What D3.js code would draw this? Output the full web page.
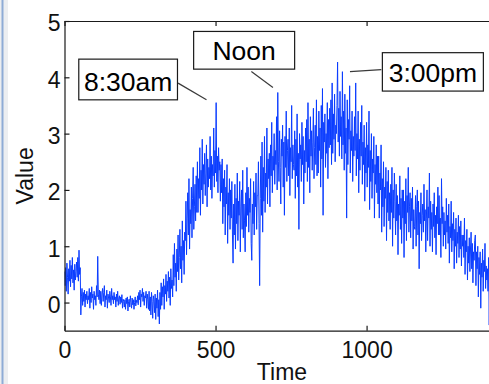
<!DOCTYPE html>
<html>
<head>
<meta charset="utf-8">
<script src="https://cdn.jsdelivr.net/npm/d3@7"></script>
<style>
  html, body { margin: 0; padding: 0; background: #fff; }
  svg { display: block; font-family: "Liberation Sans", Arial, Helvetica, sans-serif; }
</style>
</head>
<body>
<svg id="chart" width="489" height="384"></svg>
<script>
// Sampling interval of the activity trace, in minutes since midnight
const stepMinutes = 2;

// Activity level, one reading every 2 minutes (20 readings = 40 minutes per row)
const values = [
  0.55, 0.30, 0.62, 0.20, 0.70, 0.45, 0.15, 0.60, 0.38, 0.75, 0.28, 0.66, 0.42, 0.80, 0.35, 0.58, 0.22, 0.68, 0.40, 0.55,
  0.72, 0.45, 0.80, 0.38, 0.93, 0.50, 0.62, -0.22, 0.10, 0.25, -0.05, 0.18, 0.02, 0.22, -0.08, 0.15, 0.05, 0.20, -0.02, 0.12,
  0.05, 0.25, -0.10, 0.18, 0.00, 0.28, 0.08, 0.15, -0.12, 0.20, 0.05, 0.12, -0.05, 0.30, 0.10, 0.82, 0.15, 0.05, 0.22, -0.02,
  0.20, -0.05, 0.15, 0.25, 0.02, 0.18, 0.30, -0.08, 0.12, 0.05, 0.22, -0.10, 0.15, 0.08, 0.00, 0.20, 0.10, -0.05, 0.25, 0.05,
  0.12, -0.02, 0.18, 0.05, 0.10, -0.08, 0.15, 0.02, 0.20, -0.05, 0.08, 0.12, -0.03, 0.10, 0.00, 0.14, -0.10, 0.06, 0.02, -0.08,
  0.05, -0.12, 0.08, -0.02, 0.10, -0.15, 0.02, 0.06, -0.08, 0.12, 0.00, -0.10, 0.08, -0.04, 0.05, -0.12, 0.00, 0.10, -0.06, 0.04,
  0.00, 0.12, -0.04, 0.18, 0.05, 0.22, -0.08, 0.15, 0.10, 0.25, 0.02, 0.18, -0.05, 0.12, 0.08, 0.20, -0.10, 0.15, 0.05, -0.12,
  0.20, -0.15, 0.10, -0.22, 0.18, 0.02, -0.28, 0.12, 0.05, -0.18, 0.15, -0.30, 0.08, -0.10, 0.22, -0.25, 0.05, -0.38, 0.18, -0.12,
  0.35, -0.05, 0.28, 0.10, 0.42, -0.12, 0.30, 0.15, 0.50, 0.02, 0.38, 0.20, 0.55, 0.08, 0.45, -0.05, 0.60, 0.25, 0.40, 0.10,
  0.85, 0.30, 1.05, 0.45, 0.70, 0.20, 0.95, 0.55, 1.20, 0.40, 0.80, 1.30, 0.60, 1.00, 0.35, 1.45, 0.75, 1.10, 0.50, 1.25,
  1.10, 1.80, 0.85, 1.50, 1.95, 1.20, 2.20, 0.95, 1.65, 1.40, 2.05, 1.15, 1.85, 2.40, 1.30, 1.70, 2.10, 1.45, 2.25, 1.60,
  2.50, 1.60, 2.20, 1.85, 2.75, 1.55, 2.35, 2.00, 2.90, 1.75, 2.45, 2.10, 2.65, 1.90, 2.30, 2.80, 1.70, 2.55, 2.05, 2.40,
  2.20, 2.95, 2.00, 2.60, 1.85, 2.45, 2.25, 3.10, 2.05, 2.70, 2.30, 3.55, 2.15, 2.60, 1.95, 2.75, 2.35, 2.50, 1.80, 2.45,
  1.95, 2.55, 1.40, 2.20, 1.70, 2.35, 1.20, 2.05, 1.75, 2.45, 1.05, 1.95, 1.55, 2.20, 1.30, 2.00, 1.50, 2.15, 1.20, 0.70,
  1.75, 1.20, 2.10, 0.95, 1.85, 1.40, 2.30, 1.10, 1.80, 1.55, 2.15, 0.90, 1.70, 2.00, 1.30, 2.35, 1.15, 1.75, 1.45, 0.90,
  1.95, 1.35, 2.40, 1.55, 2.05, 1.25, 1.85, 1.60, 2.20, 1.05, 0.75, 1.75, 1.40, 2.15, 1.20, 1.95, 1.70, 2.30, 1.30, 1.90,
  1.90, 2.50, 1.40, 0.30, 1.85, 2.60, 1.55, 2.85, 1.25, 2.40, 1.80, 2.95, 1.60, 2.30, 2.05, 3.10, 1.75, 2.55, 2.20, 2.65,
  1.70, 2.80, 2.25, 3.20, 1.95, 2.60, 2.35, 3.00, 2.10, 2.70, 2.45, 3.30, 2.00, 3.73, 2.50, 2.15, 3.05, 2.40, 1.75, 2.90,
  2.60, 3.15, 2.05, 2.85, 1.55, 2.95, 2.40, 3.40, 2.15, 2.70, 2.90, 2.25, 3.10, 1.90, 2.75, 2.50, 3.50, 2.20, 2.80, 2.45,
  2.35, 3.05, 1.85, 2.90, 2.25, 3.35, 2.05, 2.65, 1.30, 3.00, 2.55, 2.80, 2.15, 3.20, 2.45, 2.95, 1.75, 2.70, 2.30, 3.10,
  2.50, 3.25, 2.15, 3.55, 2.40, 2.90, 1.95, 3.30, 2.60, 3.05, 2.35, 2.85, 3.45, 2.20, 2.75, 3.15, 2.45, 3.60, 2.25, 2.95,
  2.30, 3.40, 2.70, 3.10, 2.05, 3.50, 2.55, 3.80, 1.55, 3.20, 2.85, 3.35, 2.40, 3.00, 2.65, 3.55, 2.20, 3.25, 2.75, 3.45,
  2.80, 3.60, 2.45, 3.90, 2.65, 3.35, 2.90, 3.70, 2.50, 3.15, 3.00, 3.50, 4.27, 2.85, 3.45, 2.60, 3.75, 2.95, 3.30, 2.55,
  4.10, 2.80, 3.40, 2.35, 3.70, 2.65, 3.10, 1.50, 3.60, 2.45, 3.25, 2.90, 3.85, 2.30, 3.05, 2.70, 3.40, 2.15, 2.95, 2.60,
  3.30, 2.70, 3.90, 2.25, 3.00, 2.55, 3.40, 1.95, 2.90, 2.35, 3.20, 2.60, 3.50, 2.10, 2.85, 2.45, 3.15, 1.80, 2.75, 2.30,
  3.20, 2.05, 2.80, 2.40, 3.40, 1.65, 2.70, 2.15, 3.00, 1.85, 2.55, 2.30, 2.95, 1.50, 2.45, 2.10, 2.80, 1.95, 2.60, 1.75,
  2.60, 1.50, 2.30, 2.00, 2.80, 1.25, 2.20, 1.70, 2.50, 1.35, 2.05, 1.85, 2.40, 1.10, 2.15, 1.60, 2.35, 1.45, 1.95, 1.30,
  2.10, 1.60, 2.40, 1.00, 2.00, 1.50, 2.30, 1.80, 1.20, 2.10, 1.45, 1.90, 0.85, 1.75, 1.55, 2.25, 1.30, 1.85, 1.05, 2.00,
  1.50, 2.00, 0.80, 1.80, 1.40, 2.20, 1.10, 1.90, 1.60, 2.40, 1.25, 1.70, 1.95, 1.15, 1.85, 1.45, 2.05, 0.95, 1.65, 1.35,
  1.30, 1.90, 1.00, 1.70, 2.00, 1.20, 1.80, 0.60, 1.60, 1.40, 1.95, 1.10, 1.55, 1.75, 1.25, 2.10, 1.45, 1.65, 0.90, 1.50,
  2.00, 1.10, 1.70, 1.50, 2.30, 1.00, 1.80, 1.30, 1.60, 0.90, 1.75, 1.35, 1.95, 1.15, 1.55, 0.85, 1.70, 1.40, 2.05, 1.20,
  1.90, 1.20, 1.50, 0.80, 2.20, 1.40, 1.70, 1.00, 1.60, 1.20, 1.45, 0.95, 1.85, 1.25, 1.55, 1.05, 1.75, 0.70, 1.35, 1.15,
  1.80, 0.90, 1.40, 1.10, 1.60, 0.60, 1.30, 1.00, 1.50, 0.70, 1.25, 1.05, 1.55, 0.80, 1.35, 0.95, 1.45, 0.65, 1.20, 1.00,
  1.20, 0.80, 1.50, 0.50, 1.10, 0.90, 1.30, 0.40, 1.00, 0.70, 1.15, 0.55, 0.95, 1.25, 0.60, 1.05, 0.35, 0.90, 0.75, 1.10,
  1.20, 0.30, 0.90, 0.60, 1.00, 0.10, 0.80, 0.50, 0.90, -0.10, 0.70, 0.45, 0.95, 0.20, 0.75, 0.55, 1.05, 0.25, 0.65, 0.40,
  0.60, 0.20, 0.80, -0.40, 0.50, 0.30, 0.70, 0.20, 0.60, 0.40, 0.55, 0.15, 0.75, 0.35, 0.50, 0.05, 0.65, 0.30, 0.45, 0.25
];

// Axis ticks
const xTicks = [0, 500, 1000];
const yTicks = [0, 1, 2, 3, 4, 5];

// Callouts: label and the point (minute, value) each one points at
const calloutLabels = ["8:30am", "Noon", "3:00pm"];
const calloutMinutes = [470, 690, 945];
const calloutValues = [3.6, 3.82, 4.1];

const svg = d3.select("#chart");
const W = 489, H = 384;

// Window frame strip at the left edge
svg.append("rect").attr("x", 0).attr("y", 0).attr("width", 8).attr("height", H).attr("fill", "#eceef1");
svg.append("line").attr("x1", 2.5).attr("x2", 2.5).attr("y1", 0).attr("y2", H)
  .attr("stroke", "#8eabd6").attr("stroke-width", 2);

const plot = { left: 64.5, top: 21, right: 499.5, bottom: 330.7 };

const x = d3.scaleLinear().domain([0, 1440]).range([plot.left, plot.right]);
const y = d3.scaleLinear().domain([-0.5, 5]).range([plot.bottom, plot.top]);

const series = values.map((v, i) => ({ t: i * stepMinutes, v }));

svg.append("clipPath").attr("id", "plotClip")
  .append("rect")
  .attr("x", plot.left).attr("y", plot.top)
  .attr("width", plot.right - plot.left).attr("height", plot.bottom - plot.top);

// Trace
svg.append("path")
  .datum(series)
  .attr("clip-path", "url(#plotClip)")
  .attr("fill", "none")
  .attr("stroke", "#0a3cff")
  .attr("stroke-width", 1)
  .attr("d", d3.line().x(d => x(d.t)).y(d => y(d.v)));

// Axes box with inward ticks (bottom/left labelled, top/right unlabelled)
const axisColor = "#1a1a1a";
const tickLen = 5;
const fmt = d3.format("d");

const gx = svg.append("g").attr("transform", `translate(0,${plot.bottom})`)
  .call(d3.axisBottom(x).tickValues(xTicks).tickFormat(fmt).tickSizeInner(-tickLen).tickSizeOuter(0).tickPadding(10.5));
gx.selectAll("text").attr("font-size", 23).attr("fill", "#111");

svg.append("g").attr("transform", `translate(0,${plot.top})`)
  .call(d3.axisTop(x).tickValues(xTicks).tickSizeInner(-tickLen).tickSizeOuter(0).tickFormat(""));

const gy = svg.append("g").attr("transform", `translate(${plot.left},0)`)
  .call(d3.axisLeft(y).tickValues(yTicks).tickFormat(fmt).tickSizeInner(-tickLen).tickSizeOuter(0).tickPadding(4));
gy.selectAll("text").attr("font-size", 23).attr("fill", "#111").attr("dy", "0.43em");

svg.append("g").attr("transform", `translate(${plot.right},0)`)
  .call(d3.axisRight(y).tickValues(yTicks).tickSizeInner(-tickLen).tickSizeOuter(0).tickFormat(""));

svg.selectAll("g").attr("font-family", null);
svg.selectAll(".domain").attr("stroke", axisColor).attr("stroke-width", 1.2);
svg.selectAll(".tick line").attr("stroke", axisColor).attr("stroke-width", 1.2);

// Axis labels
svg.append("text")
  .attr("x", (plot.left + plot.right) / 2).attr("y", 379.5)
  .attr("text-anchor", "middle").attr("font-size", 23).attr("fill", "#111")
  .text("Time");

svg.append("text")
  .attr("transform", `translate(33,${(plot.top + plot.bottom) / 2}) rotate(-90)`)
  .attr("text-anchor", "middle").attr("font-size", 23).attr("fill", "#111")
  .text("Value");

// Callout boxes with leader lines; box placement is given relative to the pointed-at sample
const calloutLayout = [
  { bx: -127.7, by: -40.7, bw: 98.7, bh: 40.7, lx: -28.4, ly: -16.7 },
  { bx: -79.3,  by: -56,   bw: 101,  bh: 37.7, lx: -21.6, ly: -16 },
  { bx: 32.4,   by: -19,   bw: 101,  bh: 38.4, lx: 31.4,  ly: -2 }
];

calloutLabels.forEach((label, i) => {
  const px = x(calloutMinutes[i]);
  const py = y(calloutValues[i]);
  const L = calloutLayout[i];
  const g = svg.append("g");
  g.append("line")
    .attr("x1", px + L.lx).attr("y1", py + L.ly)
    .attr("x2", px).attr("y2", py)
    .attr("stroke", "#3a3a3a").attr("stroke-width", 1.2);
  g.append("rect")
    .attr("x", px + L.bx).attr("y", py + L.by)
    .attr("width", L.bw).attr("height", L.bh)
    .attr("fill", "#fff").attr("stroke", "#1a1a1a").attr("stroke-width", 1.2);
  g.append("text")
    .attr("x", px + L.bx + L.bw / 2).attr("y", py + L.by + L.bh - 8.8)
    .attr("text-anchor", "middle").attr("font-size", 26.5).attr("fill", "#000")
    .text(label);
});
</script>
</body>
</html>
